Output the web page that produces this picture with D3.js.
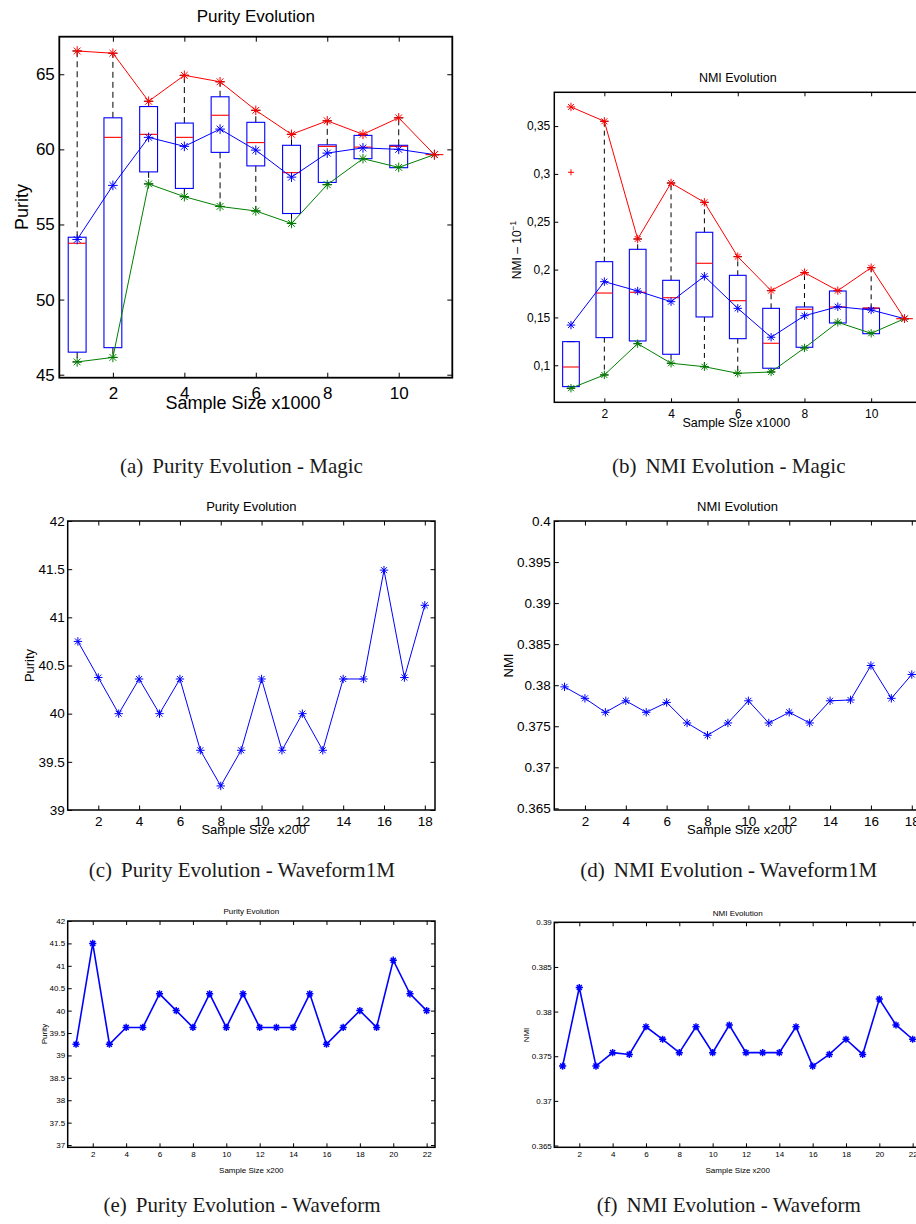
<!DOCTYPE html>
<html>
<head>
<meta charset="utf-8">
<script src="https://cdn.jsdelivr.net/npm/d3@7"></script>
<style>
  body { margin: 0; background: #fff; }
  svg { display: block; }
  text { font-family: "Liberation Sans", Arial, Helvetica, sans-serif; fill: #000; }
  .caption { font-family: "Liberation Serif", "Times New Roman", serif; fill: #1a1a1a; }
</style>
</head>
<body>
<svg id="fig" width="916" height="1224"></svg>
<script>
// ---------- Magic: sample size x1000 ----------
const magicSizes = [1, 2, 3, 4, 5, 6, 7, 8, 9, 10, 11];

// Purity over repeated runs
const purityMagicMax  = [66.55, 66.4, 63.2, 64.93, 64.5, 62.6, 61.0, 61.9, 61.0, 62.1, 59.65];
const purityMagicMean = [54.0, 57.6, 60.8, 60.2, 61.35, 59.95, 58.15, 59.75, 60.1, 60.0, 59.65];
const purityMagicMin  = [45.85, 46.15, 57.7, 56.85, 56.2, 55.9, 55.07, 57.65, 59.38, 58.8, 59.65];
const purityMagicQ1   = [46.5, 46.8, 58.5, 57.4, 59.8, 58.9, 55.73, 57.8, 59.38, 58.78, 59.65];
const purityMagicQ3   = [54.15, 62.1, 62.85, 61.75, 63.5, 61.8, 60.27, 60.3, 60.93, 60.27, 59.65];
const purityMagicMed  = [53.75, 60.8, 61.0, 60.8, 62.27, 60.45, 58.45, 60.2, 60.15, 60.2, 59.65];
const purityMagicWhiskHi = [66.55, 66.4, 63.2, 64.93, 64.5, 62.6, 61.0, 61.9, 61.0, 62.1, 59.65];
const purityMagicWhiskLo = [45.85, 46.15, 57.7, 56.85, 56.2, 55.9, 55.07, 57.65, 59.38, 58.8, 59.65];
const purityMagicOutliers = [];

// NMI over repeated runs
const nmiMagicMax  = [0.370, 0.355, 0.232, 0.2905, 0.2703, 0.2135, 0.178, 0.1968, 0.178, 0.202, 0.1487];
const nmiMagicMean = [0.142, 0.1874, 0.1776, 0.1665, 0.193, 0.1595, 0.1293, 0.1518, 0.1612, 0.1578, 0.1487];
const nmiMagicMin  = [0.076, 0.0899, 0.1226, 0.1021, 0.0985, 0.0916, 0.093, 0.1181, 0.1449, 0.1334, 0.1487];
const nmiMagicQ1   = [0.0777, 0.1289, 0.1254, 0.1115, 0.1505, 0.1278, 0.0969, 0.1188, 0.1442, 0.133, 0.1487];
const nmiMagicQ3   = [0.1247, 0.2083, 0.2212, 0.1888, 0.239, 0.194, 0.1595, 0.1609, 0.1776, 0.1595, 0.1487];
const nmiMagicMed  = [0.0982, 0.1755, 0.1763, 0.1706, 0.2066, 0.1675, 0.123, 0.1585, 0.1609, 0.1599, 0.1487];
const nmiMagicWhiskHi = [0.1247, 0.355, 0.232, 0.2905, 0.2703, 0.2135, 0.178, 0.1968, 0.178, 0.202, 0.1487];
const nmiMagicWhiskLo = [0.076, 0.0899, 0.1226, 0.1021, 0.0985, 0.0916, 0.093, 0.1181, 0.1449, 0.1334, 0.1487];
const nmiMagicOutliers = [[1, 0.3017]];

// ---------- Waveform1M: sample size x200 ----------
const w1mSizes = d3.range(1, 19);
const purityW1M = [40.75, 40.375, 40.0, 40.36, 40.0, 40.36, 39.62, 39.25, 39.62, 40.36, 39.62, 40.0, 39.62, 40.36, 40.36, 41.49, 40.375, 41.125];
const nmiW1M = [0.3798, 0.3784, 0.3767, 0.3781, 0.3767, 0.3779, 0.3754, 0.3739, 0.3754, 0.3781, 0.3754, 0.3767, 0.3754, 0.3781, 0.3782, 0.3824, 0.3784, 0.3813];

// ---------- Waveform: sample size x200 ----------
const waveSizes = d3.range(1, 23);
const purityWave = [39.25, 41.5, 39.25, 39.625, 39.625, 40.375, 40.0, 39.625, 40.375, 39.625, 40.375, 39.625, 39.625, 39.625, 40.375, 39.25, 39.625, 40.0, 39.625, 41.125, 40.375, 40.0];
const nmiWave = [0.3739, 0.3827, 0.3739, 0.3754, 0.3752, 0.3783, 0.3769, 0.3754, 0.3783, 0.3754, 0.3785, 0.3754, 0.3754, 0.3754, 0.3783, 0.3739, 0.3752, 0.3769, 0.3752, 0.3814, 0.3785, 0.3769];

// ---------- tick values ----------
const magicXTicks = [2, 4, 6, 8, 10];
const purityMagicYTicks = [45, 50, 55, 60, 65];
const nmiMagicYTicks = [0.1, 0.15, 0.2, 0.25, 0.3, 0.35];
const w1mXTicks = [2, 4, 6, 8, 10, 12, 14, 16, 18];
const purityW1MYTicks = [39, 39.5, 40, 40.5, 41, 41.5, 42];
const nmiW1MYTicks = [0.365, 0.37, 0.375, 0.38, 0.385, 0.39, 0.395, 0.4];
const waveXTicks = [2, 4, 6, 8, 10, 12, 14, 16, 18, 20, 22];
const purityWaveYTicks = [37, 37.5, 38, 38.5, 39, 39.5, 40, 40.5, 41, 41.5, 42];
const nmiWaveYTicks = [0.365, 0.37, 0.375, 0.38, 0.385, 0.39];

const RED = "#ff0000", BLUE = "#0000ff", GREEN = "#008000";

const svg = d3.select("#fig");
svg.append("rect").attr("width", 916).attr("height", 1224).attr("fill", "#fff");

// asterisk marker: a "+" overlaid with an "x"
function starPath(r) {
  const k = r * Math.SQRT1_2;
  return `M${-r},0H${r}M0,${-r}V${r}M${-k},${-k}L${k},${k}M${-k},${k}L${k},${-k}`;
}

function styleAxis(sel, size) {
  sel.select(".domain").remove();
  sel.selectAll(".tick line").attr("stroke", "#000").attr("stroke-width", 1);
  sel.selectAll(".tick text").attr("fill", "#000");
  sel.attr("font-size", size).attr("font-family", '"Liberation Sans", Arial, sans-serif');
}

function drawPanel(o) {
  const x = d3.scaleLinear().domain(o.xDomain).range([o.left, o.right]);
  const y = d3.scaleLinear().domain(o.yDomain).range([o.bottom, o.top]);
  const g = svg.append("g");
  const fmt = o.yFormat || (d => String(d));

  // ticks on all four sides, pointing inward
  g.append("g").attr("transform", `translate(0,${o.bottom})`)
    .call(d3.axisBottom(x).tickValues(o.xTicks).tickSize(-o.tick).tickPadding(o.xPad).tickFormat(d => String(d)))
    .call(styleAxis, o.font);
  g.append("g").attr("transform", `translate(0,${o.top})`)
    .call(d3.axisTop(x).tickValues(o.xTicks).tickSize(-o.tick).tickFormat(""))
    .call(styleAxis, o.font);
  g.append("g").attr("transform", `translate(${o.left},0)`)
    .call(d3.axisLeft(y).tickValues(o.yTicks).tickSize(-o.tick).tickPadding(o.yPad).tickFormat(fmt))
    .call(styleAxis, o.font);
  g.append("g").attr("transform", `translate(${o.right},0)`)
    .call(d3.axisRight(y).tickValues(o.yTicks).tickSize(-o.tick).tickFormat(""))
    .call(styleAxis, o.font);

  // box plots
  if (o.box) {
    const b = o.box;
    const hw = (x(1.25) - x(1));
    b.q1.forEach((_, i) => {
      const xc = x(o.xs[i]);
      const bg = g.append("g");
      if (b.hi[i] > b.q3[i]) {
        bg.append("line").attr("x1", xc).attr("x2", xc).attr("y1", y(b.q3[i])).attr("y2", y(b.hi[i]))
          .attr("stroke", "#000").attr("stroke-width", 1).attr("stroke-dasharray", o.dash);
      }
      if (b.lo[i] < b.q1[i]) {
        bg.append("line").attr("x1", xc).attr("x2", xc).attr("y1", y(b.q1[i])).attr("y2", y(b.lo[i]))
          .attr("stroke", "#000").attr("stroke-width", 1).attr("stroke-dasharray", o.dash);
      }
      [b.hi[i], b.lo[i]].forEach(v => {
        bg.append("line").attr("x1", xc - hw / 2).attr("x2", xc + hw / 2).attr("y1", y(v)).attr("y2", y(v))
          .attr("stroke", "#000").attr("stroke-width", 1);
      });
      bg.append("rect").attr("x", xc - hw).attr("width", 2 * hw)
        .attr("y", y(b.q3[i])).attr("height", Math.max(0, y(b.q1[i]) - y(b.q3[i])))
        .attr("fill", "none").attr("stroke", BLUE).attr("stroke-width", 1.1);
      bg.append("line").attr("x1", xc - hw).attr("x2", xc + hw).attr("y1", y(b.med[i])).attr("y2", y(b.med[i]))
        .attr("stroke", RED).attr("stroke-width", 1.1);
    });
    (b.outliers || []).forEach(([ox, ov]) => {
      g.append("path").attr("transform", `translate(${x(ox)},${y(ov)})`)
        .attr("d", `M-3,0H3M0,-3V3`).attr("stroke", RED).attr("stroke-width", 1).attr("fill", "none");
    });
  }

  // line series with asterisk markers
  o.series.forEach(s => {
    const line = d3.line().x((d, i) => x(o.xs[i])).y(d => y(d));
    g.append("path").datum(s.values).attr("d", line)
      .attr("fill", "none").attr("stroke", s.color).attr("stroke-width", o.lw);
    g.selectAll(null).data(s.values).enter().append("path")
      .attr("transform", (d, i) => `translate(${x(o.xs[i])},${y(d)})`)
      .attr("d", starPath(o.mr)).attr("fill", "none")
      .attr("stroke", s.color).attr("stroke-width", o.mw);
  });

  // axes frame
  g.append("rect").attr("x", o.left).attr("y", o.top)
    .attr("width", o.right - o.left).attr("height", o.bottom - o.top)
    .attr("fill", "none").attr("stroke", "#000").attr("stroke-width", o.frame);

  // title and axis labels
  g.append("text").attr("x", o.title.x).attr("y", o.title.y).attr("text-anchor", "middle")
    .attr("font-size", o.title.size).text(o.title.text);
  g.append("text").attr("x", o.xlabel.x).attr("y", o.xlabel.y).attr("text-anchor", "middle")
    .attr("font-size", o.xlabel.size).text(o.xlabel.text);
  const yl = g.append("text").attr("text-anchor", "middle")
    .attr("transform", `translate(${o.ylabel.x},${o.ylabel.y}) rotate(-90)`)
    .attr("font-size", o.ylabel.size);
  yl.append("tspan").text(o.ylabel.text);
  if (o.ylabel.sup) {
    yl.append("tspan").attr("dy", -o.ylabel.size * 0.45).attr("font-size", o.ylabel.size * 0.7).text(o.ylabel.sup);
  }

  // sub-figure caption
  const cap = svg.append("text").attr("class", "caption").attr("x", o.caption.x).attr("y", o.caption.y)
    .attr("text-anchor", "middle").attr("font-size", 21);
  cap.append("tspan").text(o.caption.tag);
  cap.append("tspan").attr("dx", 9).text(o.caption.text);
}

// (a) Purity Evolution - Magic
drawPanel({
  left: 59.3, right: 452.3, top: 36.7, bottom: 377.7,
  xDomain: [0.5, 11.5], yDomain: [44.8, 67.5],
  xs: magicSizes, xTicks: magicXTicks, yTicks: purityMagicYTicks,
  tick: 5, font: 17, xPad: 9, yPad: 4.5, frame: 1.8,
  lw: 1, mr: 4.8, mw: 1, dash: "6,4",
  box: { q1: purityMagicQ1, q3: purityMagicQ3, med: purityMagicMed, hi: purityMagicWhiskHi, lo: purityMagicWhiskLo, outliers: purityMagicOutliers },
  series: [
    { values: purityMagicMean, color: BLUE },
    { values: purityMagicMin, color: GREEN },
    { values: purityMagicMax, color: RED }
  ],
  title: { text: "Purity Evolution", x: 255.8, y: 22, size: 17 },
  xlabel: { text: "Sample Size x1000", x: 243, y: 409, size: 18 },
  ylabel: { text: "Purity", x: 28, y: 207, size: 18 },
  caption: { tag: "(a)", text: "Purity Evolution - Magic", x: 241.5, y: 472.7 }
});

// (b) NMI Evolution - Magic
drawPanel({
  left: 554.3, right: 921.2, top: 92.3, bottom: 402.3,
  xDomain: [0.5, 11.5], yDomain: [0.0613, 0.3853],
  xs: magicSizes, xTicks: magicXTicks, yTicks: nmiMagicYTicks,
  yFormat: d => String(d).replace(".", ","),
  tick: 4, font: 12, xPad: 7, yPad: 4, frame: 1.5,
  lw: 1, mr: 4.2, mw: 1, dash: "5,4",
  box: { q1: nmiMagicQ1, q3: nmiMagicQ3, med: nmiMagicMed, hi: nmiMagicWhiskHi, lo: nmiMagicWhiskLo, outliers: nmiMagicOutliers },
  series: [
    { values: nmiMagicMean, color: BLUE },
    { values: nmiMagicMin, color: GREEN },
    { values: nmiMagicMax, color: RED }
  ],
  title: { text: "NMI Evolution", x: 737.8, y: 81.7, size: 12.5 },
  xlabel: { text: "Sample Size x1000", x: 736.3, y: 427.3, size: 12.5 },
  ylabel: { text: "NMI \u2013 10", sup: "\u22121", x: 521, y: 250, size: 12 },
  caption: { tag: "(b)", text: "NMI Evolution - Magic", x: 728.7, y: 472.7 }
});

// (c) Purity Evolution - Waveform1M
drawPanel({
  left: 67.7, right: 435, top: 521, bottom: 810,
  xDomain: [0.5, 18.5], yDomain: [39, 42],
  xs: w1mSizes, xTicks: w1mXTicks, yTicks: purityW1MYTicks,
  tick: 4.5, font: 13.5, xPad: 6.7, yPad: 3, frame: 1.5,
  lw: 1, mr: 4.2, mw: 1,
  series: [{ values: purityW1M, color: BLUE }],
  title: { text: "Purity Evolution", x: 251.3, y: 510.7, size: 13 },
  xlabel: { text: "Sample Size x200", x: 253.8, y: 834.3, size: 13 },
  ylabel: { text: "Purity", x: 33.5, y: 665.5, size: 13 },
  caption: { tag: "(c)", text: "Purity Evolution - Waveform1M", x: 241.8, y: 876.7 }
});

// (d) NMI Evolution - Waveform1M
drawPanel({
  left: 554.3, right: 922, top: 521, bottom: 810,
  xDomain: [0.5, 18.5], yDomain: [0.3648, 0.4],
  xs: w1mSizes, xTicks: w1mXTicks, yTicks: nmiW1MYTicks,
  tick: 4.5, font: 13.5, xPad: 6.7, yPad: 3.5, frame: 1.5,
  lw: 1, mr: 4.2, mw: 1,
  series: [{ values: nmiW1M, color: BLUE }],
  title: { text: "NMI Evolution", x: 737.5, y: 510.7, size: 13 },
  xlabel: { text: "Sample Size x200", x: 739.5, y: 834.3, size: 13 },
  ylabel: { text: "NMI", x: 513, y: 665.5, size: 13 },
  caption: { tag: "(d)", text: "NMI Evolution - Waveform1M", x: 728.7, y: 876.7 }
});

// (e) Purity Evolution - Waveform
drawPanel({
  left: 67.7, right: 435, top: 921, bottom: 1147.3,
  xDomain: [0.5, 22.5], yDomain: [36.95, 42],
  xs: waveSizes, xTicks: waveXTicks, yTicks: purityWaveYTicks,
  tick: 4, font: 8, xPad: 4.5, yPad: 2.5, frame: 1.5,
  lw: 1.6, mr: 3.6, mw: 1.5,
  series: [{ values: purityWave, color: BLUE }],
  title: { text: "Purity Evolution", x: 251.3, y: 913.7, size: 8 },
  xlabel: { text: "Sample Size x200", x: 251.3, y: 1173.3, size: 8 },
  ylabel: { text: "Purity", x: 46.5, y: 1034, size: 8 },
  caption: { tag: "(e)", text: "Purity Evolution - Waveform", x: 242, y: 1212 }
});

// (f) NMI Evolution - Waveform
drawPanel({
  left: 554.3, right: 921, top: 922.3, bottom: 1147.3,
  xDomain: [0.5, 22.5], yDomain: [0.3648, 0.39],
  xs: waveSizes, xTicks: waveXTicks, yTicks: nmiWaveYTicks,
  tick: 4, font: 8, xPad: 4.5, yPad: 2.5, frame: 1.5,
  lw: 1.6, mr: 3.6, mw: 1.5,
  series: [{ values: nmiWave, color: BLUE }],
  title: { text: "NMI Evolution", x: 737.7, y: 915.7, size: 8 },
  xlabel: { text: "Sample Size x200", x: 737.7, y: 1173.3, size: 8 },
  ylabel: { text: "NMI", x: 529, y: 1035, size: 8 },
  caption: { tag: "(f)", text: "NMI Evolution - Waveform", x: 728.7, y: 1212 }
});
</script>
</body>
</html>
